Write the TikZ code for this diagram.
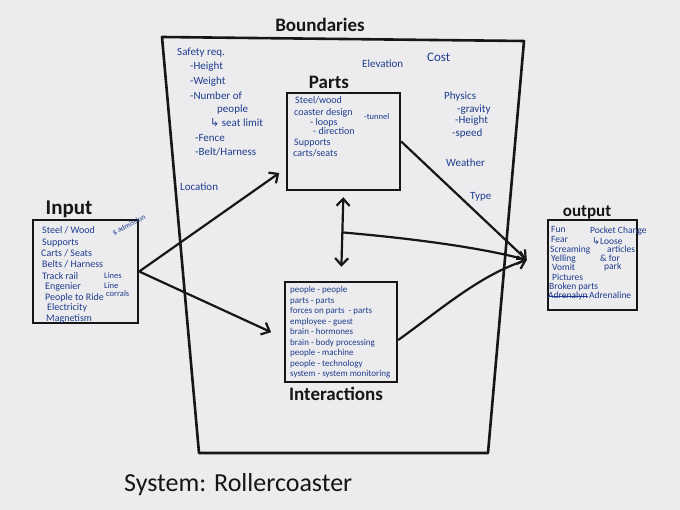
\documentclass[tikz,border=0pt]{standalone}
\usepackage{fontspec}
\setmainfont{Carlito}
\newfontfamily\symfont{DejaVu Sans}
\usetikzlibrary{arrows.meta,calc}
\definecolor{paper}{HTML}{ECECEE}
\definecolor{marker}{HTML}{161616}
\definecolor{pen}{HTML}{1E3C8E}
\tikzset{
  frame/.style={draw=marker,line width=2.6pt,line join=round},
  box/.style={draw=marker,line width=2.4pt,inner sep=0pt},
  head/.style={font=\fontsize{19}{21}\selectfont\bfseries,text=marker,inner sep=0pt},
  note/.style={font=\fontsize{11}{12}\selectfont,text=pen,anchor=base west,inner sep=0pt},
  tiny/.style={note,font=\fontsize{8.5}{9}\selectfont},
  arrow/.style={draw=marker,line width=2.2pt,-{Straight Barb[length=7pt,width=13pt,line width=2.2pt]}},
  dblarrow/.style={arrow,{Straight Barb[length=7pt,width=13pt,line width=2.2pt]}-{Straight Barb[length=7pt,width=13pt,line width=2.2pt]}},
}
\begin{document}
\begin{tikzpicture}[x=1pt,y=-1pt]
  \useasboundingbox[fill=paper] (0,0) rectangle (680,510);
  % boundary of the system
  \coordinate (b1) at (162,37);
  \coordinate (b2) at (524,41);
  \coordinate (b3) at (488,453);
  \coordinate (b4) at (199,453);
  \draw[frame] (b1) -- (b2) -- (b3) -- (b4) -- cycle;
  \node[head] (bnd) at (320,25) {Boundaries};
  \node[head,font=\fontsize{26}{28}\selectfont,anchor=west] (sys) at (124,485) {System: Rollercoaster};

  % boxes
  \node[box,minimum width=113pt,minimum height=97pt] (parts) at (343.5,141.5) {};
  \node[box,minimum width=112pt,minimum height=100pt] (inter) at (341,332) {};
  \node[box,minimum width=105pt,minimum height=103pt] (input) at (85.5,271.5) {};
  \node[box,minimum width=89pt,minimum height=90pt] (output) at (592.5,265) {};
  \node[head] (partsT) at (329,82) {Parts};
  \node[head] (interT) at (336,394) {Interactions};
  \node[head,font=\fontsize{21}{23}\selectfont\bfseries] (inputT) at (69,209) {Input};
  \node[head,font=\fontsize{17}{19}\selectfont\bfseries] (outputT) at (587,212) {output};

  % boundary notes
  \foreach \x/\y/\t [count=\i] in {177/56/{Safety req.}, 190/70/-Height, 190/85/-Weight, 190/100/{-Number of}, 217/113/people, 210/127/{{\symfont\char"21B3}\ seat limit}, 195/142/-Fence, 195/156/{-Belt/Harness}, 180/191/Location, 362/68/Elevation, 444/100/Physics, 457/113/-gravity, 455/124/-Height, 452/137/-speed, 446/167/Weather, 470/200/Type}
    \node[note] (bn\i) at (\x,\y) {\t};
  \node[note,font=\fontsize{13}{14}\selectfont] (cost) at (427,62) {Cost};

  % parts
  \foreach \x/\y/\t [count=\i] in {295/104/{Steel/wood}, 294/116/{coaster design}, 310/126/{- loops}, 313/135/{- direction}, 294/146/Supports, 293/157/{carts/seats}}
    \node[note,font=\fontsize{10}{11}\selectfont] (pt\i) at (\x,\y) {\t};
  \node[tiny] (tun) at (364,120) {-tunnel};

  % interactions
  \foreach \t [count=\i] in {people - people, parts - parts, forces on parts \ - parts, employee - guest, brain - hormones, brain - body processing, people - machine, people - technology, system - system monitoring}
    \node[note,font=\fontsize{9}{10}\selectfont] (it\i) at (290,282.5+\i*10.5) {\t};

  % input
  \foreach \x/\y/\t [count=\i] in {42/234/{Steel / Wood}, 42/245.5/Supports, 41/257/{Carts / Seats}, 42/268/{Belts / Harness}, 42/279.5/{Track rail}, 45/290/Engenier, 45/300.5/{People to Ride}, 47/311/Electricity, 46/321.5/Magnetism}
    \node[note,font=\fontsize{10}{11}\selectfont] (in\i) at (\x,\y) {\t};
  \foreach \x/\y/\t [count=\i] in {104/279/Lines, 104/288.5/Line, 106/297/corrals}
    \node[tiny] (ln\i) at (\x,\y) {\t};
  \node[tiny,font=\fontsize{7.5}{8}\selectfont,rotate=28,anchor=center] (adm) at (129,225) {\$ admission};

  % output
  \foreach \x/\y/\t [count=\i] in {551/233/Fun, 551/243/Fear, 550/253/Screaming, 551/262/Yelling, 552/271/Vomit, 552/281/Pictures, 549/290/{Broken parts}, 548/299/Adrenalyn, 589/299/Adrenaline, 590/234/{Pocket Change}, 592/245/{{\symfont\char"21B3}Loose}, 607/253/articles, 600/262/{\& for}, 604/270/park}
    \node[note,font=\fontsize{9.5}{10}\selectfont] (ot\i) at (\x,\y) {\t};
  \draw[pen,line width=1pt] (ot8.west) -- (ot8.east);

  % connectors
  \coordinate (outin) at ([xshift=-20pt,yshift=5pt]output.west);
  \coordinate (mid) at ($(parts.south)!0.46!(inter.north)$);
  \draw[arrow,shorten >=8pt] (input.east) -- (parts.205);
  \draw[arrow,shorten >=14pt] (input.east) -- (inter.186);
  \draw[arrow] (parts.east) -- (outin);
  \draw[dblarrow,shorten <=6pt,shorten >=14pt] (parts.south) -- (inter.north);
  \draw[arrow] (mid) .. controls (430,240) and (490,250) .. (outin);
  \draw[arrow] (inter.-8) .. controls (440,310) and (480,275) .. (outin);
\end{tikzpicture}
\end{document}
